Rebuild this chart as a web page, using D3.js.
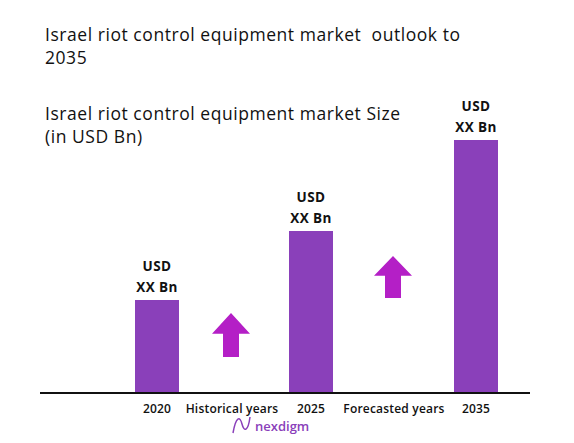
<!DOCTYPE html>
<html><head><meta charset="utf-8">
<script src="https://cdn.jsdelivr.net/npm/d3@7"></script>
<style>body{margin:0;background:#fff}text{font-family:"Open Sans",sans-serif;white-space:pre}</style>
</head><body>
<script>
// chart data
const years = ["2020", "2025", "2035"];
const sizes = [93, 162, 253];
const valueLabels = ["USD", "XX Bn"];
const periodLabels = [{name: "Historical years", at: 232}, {name: "Forecasted years", at: 394}];
const arrows = [{x: 231, top: 313, bottom: 357}, {x: 393, top: 256, bottom: 298}];

const W = 574, H = 443, baseY = 393;
const svg = d3.select("body").append("svg").attr("width", W).attr("height", H);

const x = d3.scaleOrdinal().domain(years).range([157, 311, 476]);
const y = d3.scaleLinear().domain([0, 253]).range([baseY, 140]);

function title(t, yy) {
  svg.append("text").attr("x", 45).attr("y", yy).attr("font-size", 17.5)
    .attr("letter-spacing", 0.55).attr("fill", "#111").text(t);
}
title("Israel riot control equipment market  outlook to", 41);
title("2035", 64);
title("Israel riot control equipment market Size", 120);
title("(in USD Bn)", 143);

svg.selectAll("rect.bar").data(years).enter().append("rect")
  .attr("class", "bar")
  .attr("x", d => x(d) - 22).attr("width", 44)
  .attr("y", (d, i) => y(sizes[i])).attr("height", (d, i) => baseY - y(sizes[i]))
  .attr("fill", "#8a40ba");

years.forEach((d, i) => {
  valueLabels.forEach((t, j) => {
    svg.append("text").attr("x", x(d)).attr("y", y(sizes[i]) - 29 + j * 21)
      .attr("text-anchor", "middle").attr("font-size", 13.5).attr("font-weight", "bold")
      .attr("letter-spacing", 0.4).attr("fill", "#111").text(t);
  });
  svg.append("text").attr("x", x(d)).attr("y", 413).attr("text-anchor", "middle")
    .attr("font-size", 12).attr("font-weight", 600).attr("letter-spacing", 0.2)
    .attr("fill", "#111").text(d);
});

periodLabels.forEach(p => {
  svg.append("text").attr("x", p.at).attr("y", 413).attr("text-anchor", "middle")
    .attr("font-size", 12).attr("font-weight", 600).attr("letter-spacing", 0.2)
    .attr("fill", "#111").text(p.name);
});

svg.append("line").attr("x1", 40).attr("x2", 530).attr("y1", baseY).attr("y2", baseY)
  .attr("stroke", "#111").attr("stroke-width", 2);

arrows.forEach(a => {
  const hh = (a.bottom - a.top) * 0.47;
  const pts = [[a.x, a.top], [a.x + 19, a.top + hh], [a.x + 8, a.top + hh], [a.x + 8, a.bottom],
    [a.x - 8, a.bottom], [a.x - 8, a.top + hh], [a.x - 19, a.top + hh]];
  svg.append("polygon").attr("points", pts.map(p => p.join(",")).join(" ")).attr("fill", "#b41fc6");
});

// logo
svg.append("path").attr("d", "M233,433 C236,416 240,416 242,424 C244,432 248,432 250,417")
  .attr("fill", "none").attr("stroke", "#8a40ba").attr("stroke-width", 1.5);
svg.append("text").attr("x", 255).attr("y", 431).attr("font-size", 13).attr("font-weight", 600)
  .attr("fill", "#8a40ba").text("nexdigm");
</script>
</body></html>
